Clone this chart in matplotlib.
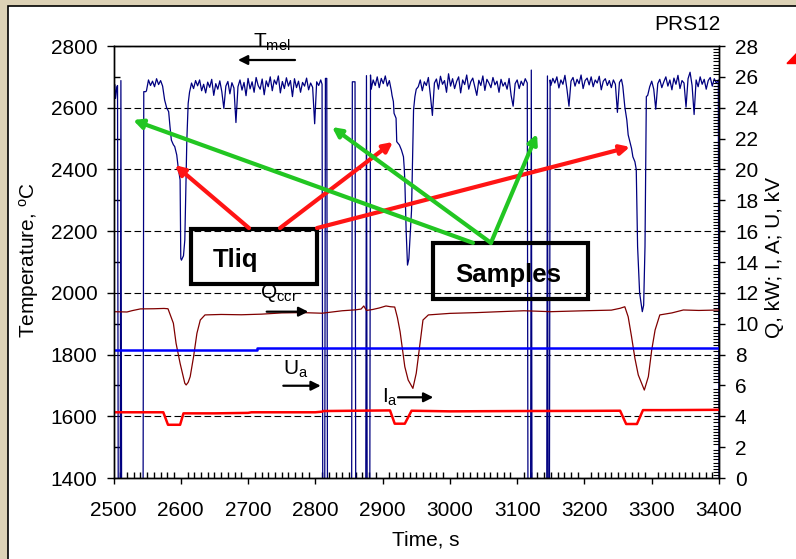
import numpy as np
import matplotlib
matplotlib.use('Agg')
import matplotlib.pyplot as plt
from matplotlib.patches import Rectangle, Polygon
from matplotlib.ticker import MultipleLocator

plt.rcParams['font.family'] = ['Liberation Sans', 'DejaVu Sans']
plt.rcParams['mathtext.fontset'] = 'custom'
plt.rcParams['mathtext.rm'] = 'Liberation Sans'
plt.rcParams['mathtext.it'] = 'Liberation Sans:italic'
plt.rcParams['mathtext.default'] = 'regular'

# ---- Tmel (left axis, degC), pieces in time order ----
start_t = [2500, 2502, 2503, 2505, 2506, 2507, 2510, 2511, 2512, 2544, 2545, 2548]
start_v = [2664, 2675, 2630, 2668, 2672, 1380, 1380, 2688, 1380, 1380, 2652, 2652]

seg_a = [2655, 2690, 2672, 2686, 2668, 2694, 2675, 2688, 2670]          # from 2549, every 3 s

dip1_t = [2575, 2576, 2579, 2582, 2584, 2586, 2589, 2591, 2594, 2596, 2599,
          2600, 2601, 2604, 2606, 2609, 2611, 2613]
dip1_v = [2640, 2625, 2600, 2587, 2538, 2495, 2480, 2474, 2447, 2409, 2366,
          2112, 2106, 2120, 2171, 2495, 2614, 2650]

seg_b = [2680, 2662, 2688, 2671, 2690, 2655, 2676, 2648, 2683, 2666,
         2692, 2640, 2678, 2660, 2687, 2652, 2598, 2670, 2685, 2645,
         2681, 2664, 2552, 2668, 2690, 2657, 2682, 2639, 2695, 2661,
         2684, 2650, 2698, 2672, 2660, 2693, 2642, 2687, 2668, 2700,
         2655, 2690, 2676, 2703, 2648, 2685, 2662, 2697, 2670, 2688,
         2636, 2694, 2665, 2686, 2650, 2682, 2670, 2696, 2658, 2680,
         2666, 2548, 2684, 2672, 2690]                                  # from 2616

gap1_t = [2810, 2811, 2814, 2815, 2817, 2818, 2854, 2855, 2859, 2860,
          2875, 2876, 2877, 2881, 2882]
gap1_v = [2676, 1380, 1380, 2695, 2695, 1380, 1380, 2684, 2684, 1380,
          1380, 2704, 1380, 1380, 2706]

seg_c = [2660, 2690, 2672, 2700, 2665, 2695, 2678, 2703, 2670, 2688, 2655]  # from 2883

dip2_t = [2914, 2916, 2917, 2920, 2921, 2925, 2928, 2931, 2932, 2933, 2935,
          2937, 2939, 2943, 2946, 2948, 2950]
dip2_v = [2640, 2620, 2582, 2566, 2490, 2479, 2463, 2441, 2409, 2366, 2200,
          2090, 2110, 2268, 2593, 2636, 2660]

seg_d = [2668, 2690, 2655, 2684, 2672, 2698, 2640, 2575, 2680, 2693,
         2660, 2702, 2676, 2688, 2650, 2710, 2670, 2694, 2662, 2685,
         2700, 2648, 2690, 2675, 2706, 2660, 2684, 2696, 2668, 2640,
         2689, 2672, 2703, 2656, 2692, 2680, 2665, 2698, 2674, 2686,
         2650, 2692, 2670, 2682, 2660, 2695, 2640, 2605, 2678, 2690,
         2662, 2686, 2672, 2694, 2680]                                  # from 2953

gap2_t = [3116, 3120, 3121, 3122, 3144, 3145, 3146, 3148, 3149]
gap2_v = [1380, 1380, 2722, 1380, 1380, 2703, 1380, 1380, 2690]

seg_e = [2672, 2695, 2680, 2700, 2664, 2690, 2676, 2705, 2660, 2605,
         2686, 2698, 2670, 2692, 2678, 2706, 2662, 2688, 2696, 2674,
         2700, 2668, 2690, 2680, 2702, 2658, 2686, 2694, 2672, 2688,
         2665, 2690, 2676, 2585, 2682, 2692]                            # from 3150

dip3_t = [3257, 3260, 3263, 3265, 3268, 3270, 3272, 3275, 3277, 3279, 3282,
          3286, 3288, 3290, 3292]
dip3_v = [2670, 2603, 2560, 2512, 2485, 2468, 2441, 2425, 2400, 2150, 2000,
          1939, 1960, 2150, 2636]

seg_f = [2640, 2668, 2686, 2660, 2595, 2678, 2692, 2665, 2684, 2700,
         2670, 2690, 2658, 2696, 2676, 2705, 2662, 2688, 2680, 2602,
         2694, 2715, 2672, 2578, 2690, 2668, 2700, 2676, 2692, 2660,
         2688, 2698, 2670, 2694, 2680, 2690]                            # from 3294
end_t = [3400]
end_v = [1380]

# ---- right axis series ----
q_t = [2500, 2520, 2528, 2540, 2560, 2575, 2581, 2585, 2589, 2593,
       2599, 2606, 2608, 2611, 2614, 2619, 2624, 2629, 2636, 2660,
       2690, 2720, 2750, 2780, 2810, 2840, 2860, 2868, 2872, 2876,
       2885, 2895, 2905, 2912, 2918, 2922, 2926, 2933, 2938, 2945,
       2950, 2955, 2960, 2968, 3000, 3040, 3074, 3110, 3150, 3200,
       3240, 3253, 3260, 3265, 3270, 3275, 3280, 3289, 3295, 3300,
       3305, 3312, 3330, 3347, 3370, 3400]
q_v = [10.78, 10.76, 10.85, 10.96, 10.97, 10.99, 10.97, 10.50, 10.03, 8.73,
       7.43, 6.14, 6.03, 6.20, 6.57, 7.86, 9.38, 10.24, 10.57, 10.60,
       10.58, 10.62, 10.70, 10.72, 10.68, 10.84, 10.90, 10.95, 11.15, 10.86,
       10.92, 11.02, 11.15, 11.10, 11.08, 10.40, 9.48, 7.21, 6.35, 5.81,
       6.79, 8.51, 10.24, 10.57, 10.67, 10.72, 10.78, 10.84, 10.78, 10.84,
       10.88, 11.00, 11.10, 10.45, 9.16, 7.76, 6.68, 5.70, 6.57, 8.30,
       9.59, 10.57, 10.70, 10.89, 10.86, 10.89]

u_t = [2500, 2713, 2713, 3400]
u_v = [8.30, 8.30, 8.43, 8.43]

i_t = [2500, 2574, 2581, 2599, 2604, 2650, 2700, 2705, 2800, 2810, 2812, 2860, 2911,
       2918, 2933, 2943, 3000, 3100, 3200, 3253, 3262, 3278, 3287, 3320, 3400]
i_v = [4.26, 4.26, 3.45, 3.45, 4.19, 4.19, 4.22, 4.26, 4.26, 4.30, 4.34, 4.36, 4.38,
       3.52, 3.52, 4.36, 4.32, 4.34, 4.35, 4.36, 3.50, 3.50, 4.40, 4.40, 4.42]


def every3(t0, vals):
    return list(t0 + 3 * np.arange(len(vals)))


tmel_t = (start_t + every3(2549, seg_a) + dip1_t + every3(2616, seg_b) + gap1_t
          + every3(2883, seg_c) + dip2_t + every3(2953, seg_d) + gap2_t
          + every3(3150, seg_e) + dip3_t + every3(3294, seg_f) + end_t)
tmel_v = (start_v + seg_a + dip1_v + seg_b + gap1_v + seg_c + dip2_v + seg_d
          + gap2_v + seg_e + dip3_v + seg_f + end_v)

W, H = 796, 559
fig = plt.figure(figsize=(W / 100, H / 100), dpi=100)
fig.patch.set_facecolor('#ddd2b6')


def px(x, y):
    return (x / W, 1 - y / H)


fig.add_artist(Rectangle(px(8, 570), 1, (570 - 6) / H, transform=fig.transFigure,
                         facecolor='white', edgecolor='black', lw=1.2, zorder=-1))
fig.add_artist(Polygon([px(787, 63.5), px(807, 63.5), px(797, 53)], closed=True,
                       transform=fig.transFigure, color='red', zorder=5))

ax1 = fig.add_axes([113.5 / W, (H - 478) / H, (719 - 113.5) / W, (478 - 46) / H])
ax2 = ax1.twinx()

ax1.plot(tmel_t, tmel_v, color='#000080', lw=0.9)
ax2.plot(q_t, q_v, color='#800000', lw=0.9)
ax2.plot(u_t, u_v, color='#0000ff', lw=1.8)
ax2.plot(i_t, i_v, color='#ff0000', lw=1.8)

ax1.set_xlim(2500, 3400)
ax1.set_ylim(1400, 2800)
ax2.set_ylim(0, 28)

ax1.xaxis.set_major_locator(MultipleLocator(100))
ax1.xaxis.set_minor_locator(MultipleLocator(10))
ax1.yaxis.set_major_locator(MultipleLocator(200))
ax1.yaxis.set_minor_locator(MultipleLocator(100))
ax2.yaxis.set_major_locator(MultipleLocator(2))
ax2.yaxis.set_minor_locator(MultipleLocator(0.2))

ax1.tick_params(axis='y', which='major', direction='out', length=5, width=1, pad=6.5, labelsize=15)
ax1.tick_params(axis='y', which='minor', direction='in', length=4, width=1)
ax1.tick_params(axis='x', which='major', direction='out', length=4, width=1, pad=12.5, labelsize=15)
ax1.tick_params(axis='x', which='minor', direction='in', length=4, width=1)
ax2.tick_params(axis='y', which='major', direction='out', length=4, width=1, pad=7.5, labelsize=15)
ax2.tick_params(axis='y', which='minor', direction='in', length=4, width=0.8)

ax1.yaxis.grid(True, which='major', color='k', lw=0.8, ls=(0, (6, 3)))
for ax in (ax1, ax2):
    for s in ax.spines.values():
        s.set_linewidth(1)

fig.text(*px(720, 24), 'PRS12', ha='right', va='center', fontsize=15)
fig.text(*px(29, 260), 'Temperature, $^{o}$C', rotation=90, ha='center', va='center', fontsize=15)
fig.text(*px(775, 258), 'Q, kW; I, A; U, kV', rotation=90, ha='center', va='center', fontsize=15)
fig.text(*px(426, 545), 'Time, s', ha='center', va='baseline', fontsize=15)

T = ax1.transData

# series labels with little black arrows
ax2.text(2707, 2793.5, 'T$_{mel}$', transform=T, fontsize=15, va='baseline')
ax2.text(2717.7, 1983, 'Q$_{ccr}$', transform=T, fontsize=15, va='baseline')
ax2.text(2752, 1734, 'U$_{a}$', transform=T, fontsize=15, va='baseline')
ax2.text(2898.6, 1643, 'I$_{a}$', transform=T, fontsize=15, va='baseline')
black = dict(arrowstyle='-|>', color='k', lw=1.6, mutation_scale=14, shrinkA=0, shrinkB=0)
for x0, x1, y in [(2769.8, 2685, 2754.6), (2727.7, 2789.5, 1939),
                  (2752.4, 2808, 1699), (2922.9, 2975.3, 1661.5)]:
    ax2.annotate('', xy=(x1, y), xytext=(x0, y), xycoords=T, textcoords=T,
                 arrowprops=black, annotation_clip=False)

# Tliq / Samples boxes and arrows
ax2.add_patch(Rectangle((2614.7, 2028.7), 2802 - 2614.7, 2206 - 2028.7, transform=T,
                        fill=False, edgecolor='k', lw=3, clip_on=False))
ax2.add_patch(Rectangle((2974.4, 1979), 3205.7 - 2974.4, 2162.5 - 1979, transform=T,
                        fill=False, edgecolor='k', lw=3, clip_on=False))
ax2.text(2648, 2085, 'Tliq', transform=T, fontsize=18.5, fontweight='bold', va='baseline')
ax2.text(3007.6, 2036, 'Samples', transform=T, fontsize=18.5, fontweight='bold', va='baseline')

red_arrows = [((2701.4, 2210), (2591.4, 2414)),
              ((2747.5, 2210), (2915.4, 2489)),
              ((2802.5, 2210), (3267.7, 2473))]
green_arrows = [((3034.3, 2162), (2529, 2560)),
                ((3061, 2162), (2824.8, 2537.5)),
                ((3061, 2162), (3129.5, 2515))]
for arrows, col in [(red_arrows, '#ff1414'), (green_arrows, '#22c622')]:
    for tail, head in arrows:
        ax2.annotate('', xy=head, xytext=tail, xycoords=T, textcoords=T,
                     arrowprops=dict(arrowstyle='-|>', color=col, lw=3, mutation_scale=14,
                                     shrinkA=0, shrinkB=0), annotation_clip=False)

ax1.set_xlim(2500, 3400)
ax1.set_ylim(1400, 2800)
ax2.set_ylim(0, 28)

fig.savefig('out.png', dpi=100, facecolor=fig.get_facecolor())
